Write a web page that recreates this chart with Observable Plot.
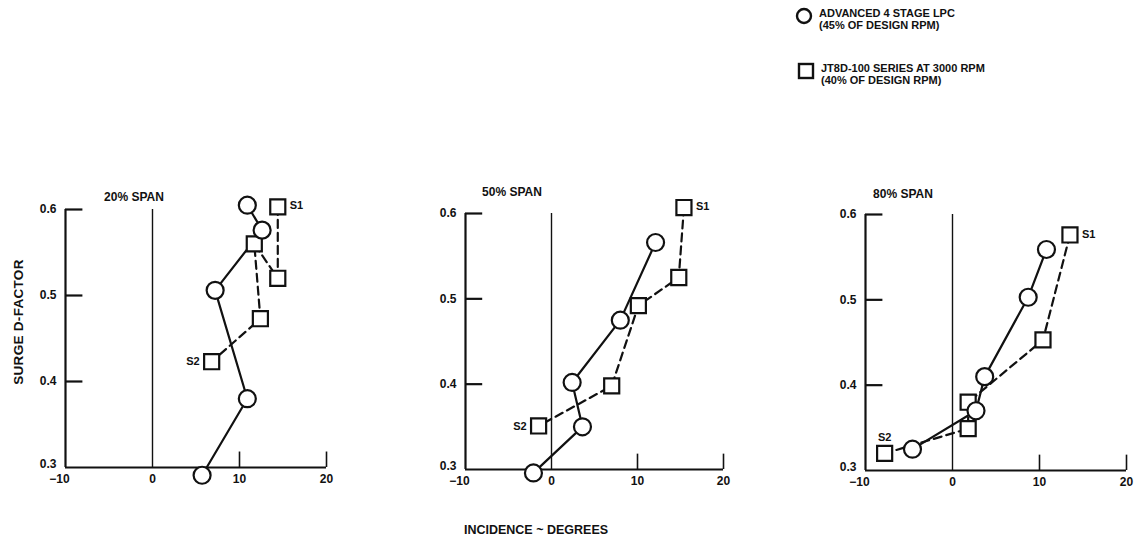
<!DOCTYPE html>
<html>
<head>
<meta charset="utf-8">
<script src="https://cdn.jsdelivr.net/npm/d3@7"></script>
<script src="https://cdn.jsdelivr.net/npm/@observablehq/plot@0.6"></script>
<style>
  html, body { margin: 0; padding: 0; background: #fff; }
  body { width: 1140px; height: 545px; position: relative; overflow: hidden;
         font-family: "Liberation Sans", Arial, Helvetica, sans-serif; color: #111; }
  .abs { position: absolute; }
  .title { font-weight: bold; font-size: 12px; white-space: nowrap; transform: translateX(-50%); }
  .leg { font-size: 11px; line-height: 11.5px; white-space: nowrap; font-weight: 600; }
  .axlab { font-weight: bold; font-size: 12.5px; white-space: nowrap; }
  .ylab { font-size: 13.5px; letter-spacing: 0.3px; }
</style>
</head>
<body>
<script>
// ---------- data ----------
const spans = ["20% SPAN", "50% SPAN", "80% SPAN"];
const xTicks = [-10, 0, 10, 20];
const yTicks = [0.3, 0.4, 0.5, 0.6];

// Advanced 4 stage LPC (circles, solid line)
const lpcInc20 = [10.9, 12.6, 7.2, 10.9, 5.7];
const lpcD20   = [0.605, 0.576, 0.506, 0.380, 0.291];
const lpcInc50 = [12.1, 8.0, 2.4, 3.6, -2.1];
const lpcD50   = [0.566, 0.475, 0.402, 0.350, 0.296];
const lpcInc80 = [10.8, 8.7, 3.7, 2.7, -4.6];
const lpcD80   = [0.559, 0.503, 0.410, 0.370, 0.325];

// JT8D-100 series (squares, dashed line), S1 first, S2 last
const jtInc20 = [14.4, 14.4, 11.7, 12.4, 6.8];
const jtD20   = [0.603, 0.520, 0.560, 0.473, 0.423];
const jtInc50 = [15.4, 14.8, 10.1, 7.0, -1.5];
const jtD50   = [0.607, 0.525, 0.492, 0.398, 0.351];
const jtInc80 = [13.5, 10.4, 1.8, 1.8, -7.8];
const jtD80   = [0.576, 0.453, 0.380, 0.349, 0.320];

const pointLabels = ["S1", "S2"];

// ---------- layout ----------
const panels = [
  {lpcX: lpcInc20, lpcY: lpcD20, jtX: jtInc20, jtY: jtD20, left: 25, top: 199, w: 311, h: 293, s2: "left"},
  {lpcX: lpcInc50, lpcY: lpcD50, jtX: jtInc50, jtY: jtD50, left: 425, top: 203, w: 308, h: 291, s2: "left"},
  {lpcX: lpcInc80, lpcY: lpcD80, jtX: jtInc80, jtY: jtD80, left: 825, top: 204, w: 311, h: 291, s2: "above"}
];
const titlePos = [[134, 190], [512, 185], [903, 187]];

const ink = "#111";
const fmtX = d => d < 0 ? "\u2212" + Math.abs(d) : String(d);
panels.forEach((p, i) => {
  const lpc = p.lpcX.map((x, k) => ({x, y: p.lpcY[k]}));
  const jt = p.jtX.map((x, k) => ({x, y: p.jtY[k]}));
  const s1 = [jt[0]], s2 = [jt[jt.length - 1]];
  const chart = Plot.plot({
    width: p.w, height: p.h,
    marginLeft: 40, marginRight: 10, marginTop: 10, marginBottom: 25,
    x: {domain: [-10, 20]},
    y: {domain: [0.3, 0.6]},
    style: {fontFamily: "Liberation Sans, Arial, sans-serif", fontSize: "12px", color: ink, overflow: "visible"},
    marks: [
      Plot.ruleX([-10], {y1: 0.3, y2: 0.6, stroke: ink, strokeWidth: 2.2}),
      Plot.ruleY([0.3], {x1: -10, x2: 20, stroke: ink, strokeWidth: 2.2}),
      Plot.ruleX([0], {y1: 0.3, y2: 0.6, stroke: ink, strokeWidth: 1.4}),
      Plot.ruleY([0.4, 0.5, 0.6], {x1: -10, x2: -8, stroke: ink, strokeWidth: 2.2}),
      Plot.ruleX([10, 20], {y1: 0.3, y2: 0.318, stroke: ink, strokeWidth: 1.6}),
      Plot.axisX({ticks: [-10], tickSize: 0, tickPadding: 7, dx: -6, tickFormat: fmtX, label: null, fill: ink, fontWeight: "bold"}),
      Plot.axisX({ticks: xTicks.slice(1), tickSize: 0, tickPadding: 7, tickFormat: fmtX, label: null, fill: ink, fontWeight: "bold"}),
      Plot.axisY({ticks: [0.3], tickSize: 0, tickPadding: 9, dy: -3, tickFormat: ".1f", label: null, fill: ink, fontWeight: "bold"}),
      Plot.axisY({ticks: yTicks.slice(1), tickSize: 0, tickPadding: 9, tickFormat: ".1f", label: null, fill: ink, fontWeight: "bold"}),
      Plot.line(jt, {x: "x", y: "y", stroke: ink, strokeWidth: 2.2, strokeDasharray: "8,5"}),
      Plot.line(lpc, {x: "x", y: "y", stroke: ink, strokeWidth: 2.2}),
      Plot.dot(jt, {x: "x", y: "y", symbol: "square", r: 8.5, fill: "white", stroke: ink, strokeWidth: 2.2}),
      Plot.dot(lpc, {x: "x", y: "y", symbol: "circle", r: 8.5, fill: "white", stroke: ink, strokeWidth: 2.2}),
      Plot.text(s1, {x: "x", y: "y", text: () => pointLabels[0], dx: 12, dy: -1, textAnchor: "start", fontSize: 11, fontWeight: "bold", fill: ink}),
      p.s2 === "left"
        ? Plot.text(s2, {x: "x", y: "y", text: () => pointLabels[1], dx: -12, textAnchor: "end", fontSize: 11, fontWeight: "bold", fill: ink})
        : Plot.text(s2, {x: "x", y: "y", text: () => pointLabels[1], dy: -16, textAnchor: "middle", fontSize: 11, fontWeight: "bold", fill: ink})
    ]
  });
  const div = document.createElement("div");
  div.className = "abs";
  div.style.left = p.left + "px";
  div.style.top = p.top + "px";
  div.appendChild(chart);
  document.body.appendChild(div);

  const t = document.createElement("div");
  t.className = "abs title";
  t.textContent = spans[i];
  t.style.left = titlePos[i][0] + "px";
  t.style.top = titlePos[i][1] + "px";
  document.body.appendChild(t);
});

// ---------- legend ----------
function legendItem(symbol, lines, x, y) {
  const wrap = document.createElement("div");
  wrap.className = "abs";
  wrap.style.left = x + "px";
  wrap.style.top = y + "px";
  const ns = "http://www.w3.org/2000/svg";
  const svg = document.createElementNS(ns, "svg");
  svg.setAttribute("width", 20); svg.setAttribute("height", 20);
  svg.style.position = "absolute"; svg.style.left = "0px"; svg.style.top = "0px";
  const shape = document.createElementNS(ns, symbol === "circle" ? "circle" : "rect");
  if (symbol === "circle") { shape.setAttribute("cx", 9); shape.setAttribute("cy", 9); shape.setAttribute("r", 7); }
  else { shape.setAttribute("x", 2); shape.setAttribute("y", 2); shape.setAttribute("width", 14); shape.setAttribute("height", 14); }
  shape.setAttribute("fill", "white"); shape.setAttribute("stroke", ink); shape.setAttribute("stroke-width", 2.4);
  svg.appendChild(shape);
  wrap.appendChild(svg);
  const txt = document.createElement("div");
  txt.className = "abs leg";
  txt.style.left = "24px"; txt.style.top = "1px";
  txt.innerHTML = lines.join("<br>");
  wrap.appendChild(txt);
  document.body.appendChild(wrap);
}
legendItem("circle", ["ADVANCED 4 STAGE LPC", "(45% OF DESIGN RPM)"], 795, 7);
legendItem("square", ["JT8D-100 SERIES AT 3000 RPM", "(40% OF DESIGN RPM)"], 797, 62);

// ---------- axis titles ----------
const yl = document.createElement("div");
yl.className = "abs axlab ylab";
yl.textContent = "SURGE D-FACTOR";
yl.style.left = "18px"; yl.style.top = "322px";
yl.style.transform = "translate(-50%,-50%) rotate(-90deg)";
document.body.appendChild(yl);

const xl = document.createElement("div");
xl.className = "abs axlab";
xl.textContent = "INCIDENCE ~ DEGREES";
xl.style.left = "536px"; xl.style.top = "523px";
xl.style.transform = "translateX(-50%)";
document.body.appendChild(xl);
</script>
</body>
</html>
